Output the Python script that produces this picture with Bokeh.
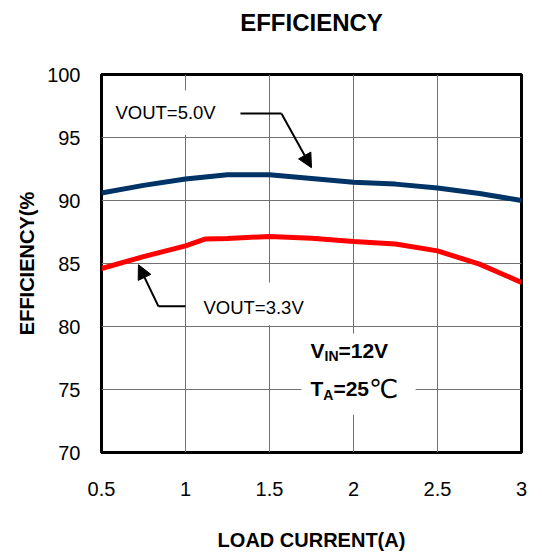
from bokeh.plotting import figure
from bokeh.models import Range1d, FixedTicker, Label, Arrow, NormalHead, LinearAxis
from bokeh.embed import file_html
from bokeh.resources import INLINE

# ---- data ----
x_5v = [0.5, 0.75, 1.0, 1.25, 1.5, 1.75, 2.0, 2.25, 2.5, 2.75, 3.0]
eff_5v = [90.6, 91.2, 91.7, 92.05, 92.05, 91.75, 91.45, 91.3, 91.0, 90.55, 90.0]
x_33v = [0.5, 0.75, 1.0, 1.12, 1.25, 1.5, 1.75, 2.0, 2.25, 2.5, 2.75, 3.0]
eff_33v = [84.6, 85.55, 86.4, 86.95, 86.98, 87.15, 87.0, 86.75, 86.55, 86.0, 84.95, 83.5]
x_ticks = [0.5, 1.0, 1.5, 2.0, 2.5, 3.0]
x_tick_labels = ["0.5", "1", "1.5", "2", "2.5", "3"]
y_ticks = [70, 75, 80, 85, 90, 95, 100]
y_tick_labels = ["70", "75", "80", "85", "90", "95", "100"]
title_text = "EFFICIENCY"

FONT = "Liberation Sans"

p = figure(frame_width=420, frame_height=378, output_backend="svg", toolbar_location=None,
           x_range=Range1d(0.5, 3.0), y_range=Range1d(70, 100),
           min_border_left=101, min_border_right=19, min_border_top=74, min_border_bottom=98)

p.background_fill_color = "white"
p.border_fill_color = "white"
p.outline_line_color = "black"
p.outline_line_width = 3

# axes
for ax in (p.xaxis, p.yaxis):
    ax.axis_line_color = None
    ax.major_tick_line_color = None
    ax.minor_tick_line_color = None
    ax.major_label_text_font = FONT
    ax.major_label_text_font_size = "20px"
    ax.major_label_text_color = "black"
    ax.axis_label_text_font = FONT
    ax.axis_label_text_font_style = "bold"
    ax.axis_label_text_color = "black"

p.xaxis.ticker = FixedTicker(ticks=x_ticks)
p.yaxis.ticker = FixedTicker(ticks=y_ticks)
p.xaxis.major_label_overrides = {t: l for t, l in zip(x_ticks, x_tick_labels)}
p.yaxis.major_label_overrides = {t: l for t, l in zip(y_ticks, y_tick_labels)}
p.xaxis.axis_label = "LOAD CURRENT(A)"
p.yaxis.axis_label = "EFFICIENCY(%"
p.xaxis.axis_label_text_font_size = "20px"
p.yaxis.axis_label_text_font_size = "20px"
p.xaxis.major_label_standoff = 23
p.xaxis.axis_label_standoff = 30
p.yaxis.major_label_standoff = 15
p.yaxis.axis_label_standoff = 6

# chart title, carried by an empty axis above the frame
top_axis = LinearAxis(ticker=FixedTicker(ticks=[]), axis_label=title_text,
                      axis_line_color=None, major_tick_line_color=None, minor_tick_line_color=None,
                      major_tick_out=0, major_tick_in=0,
                      axis_label_text_font=FONT, axis_label_text_font_size="24px",
                      axis_label_text_font_style="bold", axis_label_text_color="black",
                      axis_label_standoff=39)
p.add_layout(top_axis, "above")

p.xgrid.ticker = FixedTicker(ticks=x_ticks)
p.ygrid.ticker = FixedTicker(ticks=y_ticks)
p.grid.grid_line_color = "#707070"
p.grid.grid_line_width = 1

# white boxes behind annotation texts
p.quad(left=[0.53, 1.05, 1.69], right=[1.29, 1.73, 2.37],
       bottom=[95.2, 80.1, 73.0], top=[98.75, 83.5, 79.45],
       fill_color="white", line_color=None)

# series
p.line(x_5v, eff_5v, line_color="#003366", line_width=5)
p.line(x_33v, eff_33v, line_color="#ff0000", line_width=5)

# annotations
p.add_layout(Label(x=0.583, y=96.98, text="VOUT=5.0V", text_font=FONT, text_font_size="18.5px",
                   text_baseline="middle", text_align="left", text_color="black"))
p.add_layout(Label(x=1.107, y=81.5, text="VOUT=3.3V", text_font=FONT, text_font_size="18.5px",
                   text_baseline="middle", text_align="left", text_color="black"))

p.line([1.327, 1.571], [96.9, 96.9], line_color="black", line_width=2)
p.add_layout(Arrow(x_start=1.571, y_start=96.9, x_end=1.75, y_end=92.6,
                   line_color="black", line_width=2,
                   end=NormalHead(size=14, fill_color="black", line_color="black")))
p.line([1.0, 0.839], [81.6, 81.6], line_color="black", line_width=2)
p.add_layout(Arrow(x_start=0.839, y_start=81.6, x_end=0.72, y_end=84.9,
                   line_color="black", line_width=2,
                   end=NormalHead(size=14, fill_color="black", line_color="black")))

# V_IN / T_A block
BIG = 21
SUB = 14
W = {"V": .667, "I": .278, "N": .722, "=": .584, "1": .556, "2": .556, "5": .556, "T": .611, "A": .722}

def width(s, size):
    return sum(W[c] for c in s) * size

def seq(x, y, parts):
    off = 0.0
    for txt, size, style, dy, font in parts:
        p.add_layout(Label(x=x, y=y, x_offset=off, y_offset=dy, text=txt, text_font=font,
                           text_font_size=f"{size}px", text_font_style=style,
                           text_baseline="middle", text_align="left", text_color="black"))
        if txt == "℃":
            off += size
        else:
            off += width(txt, size)

seq(1.744, 78.1, [("V", BIG, "bold", 0, FONT), ("IN", SUB, "bold", -6, FONT), ("=12V", BIG, "bold", 0, FONT)])
seq(1.744, 75.05, [("T", BIG, "bold", 0, FONT), ("A", SUB, "bold", -6, FONT), ("=25", BIG, "bold", 0, FONT),
                   ("℃", 26, "normal", 0, "DejaVu Sans")])

open("out.html", "w").write(file_html(p, INLINE))
